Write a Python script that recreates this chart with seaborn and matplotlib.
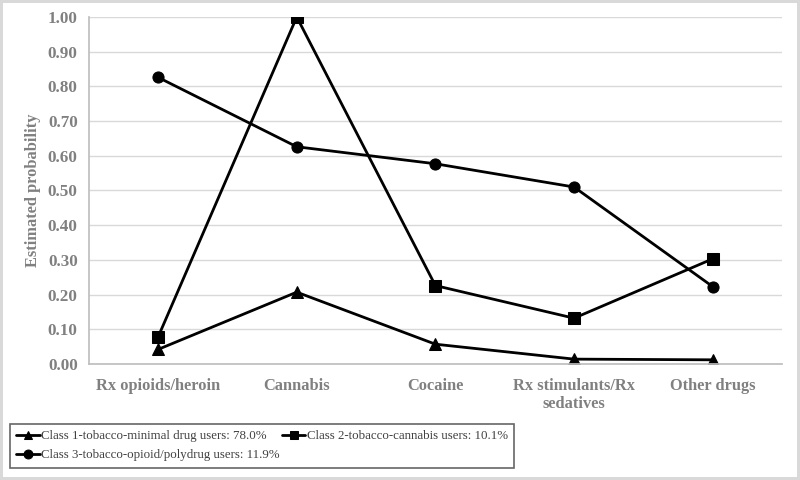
import pandas as pd
import matplotlib
matplotlib.use("Agg")
import matplotlib.pyplot as plt
import seaborn as sns

categories = ['Rx opioids/heroin', 'Cannabis', 'Cocaine', 'Rx stimulants/Rx\nsedatives', 'Other drugs']
class_names = ['Class 1-tobacco-minimal drug users: 78.0%',
               'Class 2-tobacco-cannabis users: 10.1%',
               'Class 3-tobacco-opioid/polydrug users: 11.9%']
class1 = [0.042, 0.207, 0.057, 0.014, 0.012]
class2 = [0.078, 1.000, 0.226, 0.132, 0.303]
class3 = [0.826, 0.626, 0.577, 0.510, 0.223]

rows = []
for name, vals in zip(class_names, [class1, class2, class3]):
    for cat, v in zip(categories, vals):
        rows.append({'Drug': cat, 'Probability': v, 'Class': name})
df = pd.DataFrame(rows)

sns.set_theme(style="white")
plt.rcParams['font.family'] = ['Liberation Serif', 'DejaVu Serif']

fig = plt.figure(figsize=(8, 4.8), dpi=100)
fig.patch.set_edgecolor('#d9d9d9')
fig.patch.set_linewidth(3)
ax = fig.add_axes([0.111, 0.2417, 0.8665, 0.7229])

sns.lineplot(data=df, x='Drug', y='Probability', hue='Class', style='Class',
             markers=['^', 's', 'o'], dashes=False, palette=['black'] * 3,
             linewidth=2, markersize=8, markeredgecolor='black',
             sort=False, ax=ax, legend=True)

ax.set_xlim(-0.5, 4.5)
ax.set_ylim(0, 1.0)
ax.set_yticks([i / 10 for i in range(11)])
ax.set_yticklabels([f"{i / 10:.2f}" for i in range(11)])
ax.yaxis.grid(True, color='#d9d9d9', linewidth=1)
ax.set_axisbelow(True)

grey = '#808080'
for lbl in ax.get_yticklabels():
    lbl.set_fontweight('bold')
    lbl.set_color(grey)
    lbl.set_fontsize(12.3)
ax.set_xticks(range(len(categories)))
ax.set_xticklabels(categories, fontweight='bold', color=grey, fontsize=11.8, linespacing=1.15)
ax.tick_params(axis='x', length=0, pad=10)
ax.tick_params(axis='y', length=0, pad=8)
# boundary tick marks between categories
ax.set_xticks([i - 0.5 for i in range(len(categories) + 1)], minor=True)
ax.tick_params(axis='x', which='minor', length=5, color='#bfbfbf', width=1)

ax.set_xlabel('')
ax.set_ylabel('Estimated probability', fontweight='bold', color=grey, fontsize=11.8, labelpad=5)

for s in ['top', 'right']:
    ax.spines[s].set_visible(False)
ax.spines['left'].set_color('#bfbfbf')
ax.spines['bottom'].set_color('#bfbfbf')

handles, labels = ax.get_legend_handles_labels()
ax.get_legend().remove()
order = [0, 2, 1]  # row-major fill: class 1, class 2 on first row
leg = fig.legend([handles[i] for i in order], [labels[i] for i in order], ncol=2,
                 loc='upper left', bbox_to_anchor=(0.0125, 0.117),
                 frameon=True, fancybox=False, fontsize=9.3, handlelength=1.8,
                 handletextpad=0.1, borderpad=0.5, labelspacing=0.55,
                 columnspacing=0.2, borderaxespad=0, markerscale=0.8)
leg.get_frame().set_edgecolor('#404040')
leg.get_frame().set_linewidth(1.2)
for t in leg.get_texts():
    t.set_color('#404040')

fig.savefig('out.png', dpi=100)
